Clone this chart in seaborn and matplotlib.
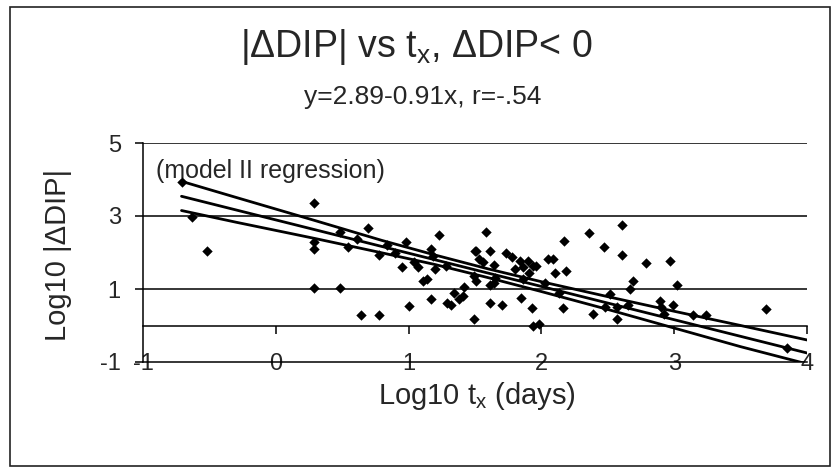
import numpy as np
import pandas as pd
import matplotlib
matplotlib.use('Agg')
import matplotlib.pyplot as plt
from matplotlib.patches import Rectangle
import seaborn as sns

# scatter points (log10 t_x, log10 |dDIP|)
log_t = [-0.71, -0.63, -0.52, 0.29, 0.29, 0.29, 0.29, 0.48, 0.48, 0.545,
         0.61, 0.64, 0.695, 0.78, 0.78, 0.84, 0.90, 0.95, 0.98, 1.00,
         1.04, 1.07, 1.11, 1.135, 1.17, 1.17, 1.185, 1.20, 1.23, 1.285,
         1.29, 1.32, 1.34, 1.38, 1.41, 1.42, 1.49, 1.49, 1.50, 1.51,
         1.51, 1.53, 1.56, 1.58, 1.61, 1.61, 1.61, 1.64, 1.64, 1.65,
         1.70, 1.73, 1.78, 1.80, 1.84, 1.845, 1.86, 1.86, 1.90, 1.91,
         1.93, 1.94, 1.94, 1.96, 1.98, 2.03, 2.05, 2.09, 2.10, 2.13,
         2.16, 2.17, 2.185, 2.36, 2.39, 2.47, 2.48, 2.52, 2.57, 2.57,
         2.61, 2.61, 2.65, 2.67, 2.69, 2.79, 2.89, 2.90, 2.92, 2.97,
         2.99, 3.02, 3.14, 3.24, 3.69, 3.85]
log_dip = [3.93, 2.98, 2.04, 3.35, 2.28, 2.09, 1.04, 2.55, 1.04, 2.14,
           2.37, 0.28, 2.66, 1.93, 0.28, 2.20, 2.00, 1.59, 2.28, 0.53,
           1.74, 1.61, 1.22, 1.27, 2.09, 0.72, 1.91, 1.54, 2.49, 1.63,
           0.61, 0.55, 0.88, 0.72, 0.81, 1.06, 0.17, 1.36, 2.05, 2.05,
           1.22, 1.82, 1.73, 2.55, 2.05, 1.10, 0.61, 1.65, 1.16, 1.31,
           0.55, 2.00, 1.88, 1.54, 1.77, 0.76, 1.59, 1.27, 1.77, 1.45,
           0.49, 0.00, 1.62, 1.63, 0.05, 1.17, 1.82, 1.82, 1.43, 0.90,
           0.49, 2.32, 1.50, 2.53, 0.32, 2.16, 0.50, 0.87, 0.17, 0.50,
           2.76, 1.93, 0.55, 0.99, 1.22, 1.71, 0.67, 0.50, 0.32, 1.77,
           0.55, 1.10, 0.28, 0.28, 0.44, -0.61]

# regression line y = 2.89 - 0.91x and its band
fit_x = [-0.71, 4.03]
fit_y = [3.54, -0.78]
band_x = [-0.71, -0.30, 0.30, 0.80, 1.20, 1.60, 2.00, 2.50, 3.00, 3.50, 4.03]
band_hi = [3.95, 3.51, 2.87, 2.33, 1.93, 1.55, 1.20, 0.79, 0.39, 0.00, -0.42]
band_lo = [3.15, 2.83, 2.38, 1.99, 1.67, 1.31, 0.93, 0.44, -0.07, -0.58, -1.08]

x_ticks = [-1, 0, 1, 2, 3, 4]
y_ticks = [-1, 1, 3, 5]

sns.set_theme(style='white')
plt.rcParams['font.family'] = ['Liberation Sans', 'DejaVu Sans']
plt.rcParams['mathtext.fontset'] = 'custom'
plt.rcParams['mathtext.rm'] = 'Liberation Sans'

fig = plt.figure(figsize=(8.32, 4.68), dpi=100)
ax = fig.add_axes([143 / 832, 106 / 468, 664 / 832, 219 / 468])

pts = pd.DataFrame({'x': log_t, 'y': log_dip})
sns.scatterplot(data=pts, x='x', y='y', ax=ax, marker='D', s=28,
                color='black', edgecolor='black', linewidth=0, zorder=4)
for lx, ly in [(fit_x, fit_y), (band_x, band_hi), (band_x, band_lo)]:
    sns.lineplot(x=lx, y=ly, ax=ax, color='black', linewidth=2,
                 sort=False, estimator=None, zorder=3)

ax.set_xlim(-1, 4)
ax.set_ylim(-1, 5)

# horizontal gridlines (Excel style, black)
for g in [1, 3, 5]:
    ax.axhline(g, color='black', linewidth=1.1, zorder=1)

for s in ['top', 'right']:
    ax.spines[s].set_visible(False)
ax.spines['left'].set_color('black')
ax.spines['left'].set_linewidth(1.1)
ax.spines['bottom'].set_color('black')
ax.spines['bottom'].set_linewidth(1.1)

ax.set_yticks(y_ticks)
ax.set_yticklabels([str(v) for v in y_ticks])
ax.tick_params(axis='y', direction='out', length=6, width=1.1, color='black',
               labelsize=17, pad=10, left=True)

# x labels sit on the y=-1 line, ticks hang off the y=0 axis
ax.set_xticks(x_ticks)
ax.set_xticklabels([str(v) for v in x_ticks])
ax.tick_params(axis='x', length=0, labelsize=17, pad=-6.6, bottom=True)
for lab in ax.get_xticklabels():
    lab.set_zorder(5)

zero_ax = ax.secondary_xaxis(1 / 6)
zero_ax.set_xticks(x_ticks[1:])
zero_ax.set_xticklabels([])
zero_ax.tick_params(direction='out', length=6, width=1.1, color='black', bottom=True)
zero_ax.spines['bottom'].set_color('black')
zero_ax.spines['bottom'].set_linewidth(1.1)

ax.set_xlabel('')
ax.set_ylabel('')
fig.text(477 / 832, 1 - 396 / 468, r'Log10 t$_{\mathregular{x}}$ (days)',
         ha='center', va='center', fontsize=21)
fig.text(58 / 832, 1 - 255 / 468, 'Log10 |ΔDIP|', rotation=90,
         ha='center', va='center', fontsize=21)

fig.text(0.5, 1 - 47 / 468, r'|ΔDIP| vs t$_{\mathregular{x}}$, ΔDIP< 0',
         ha='center', va='center', fontsize=27)
fig.text(0.508, 1 - 97 / 468, 'y=2.89-0.91x, r=-.54',
         ha='center', va='center', fontsize=19)
ax.text(-0.9, 4.22, '(model II regression)', fontsize=18, va='center', ha='left')

fig.patches.append(Rectangle((10 / 832, 2 / 468), 820 / 832, 459 / 468,
                             transform=fig.transFigure, fill=False,
                             edgecolor='#222222', linewidth=1.2))

fig.savefig('out.png', dpi=100)
